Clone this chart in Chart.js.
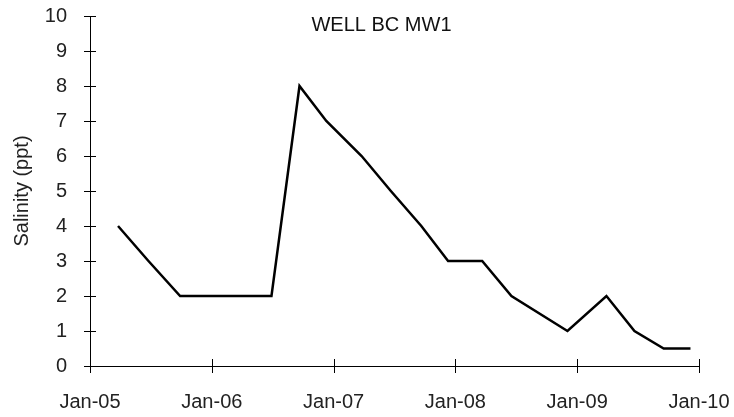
<!DOCTYPE html>
<html>
<head>
<meta charset="utf-8">
<script src="https://cdn.jsdelivr.net/npm/chart.js@4"></script>
<style>
  html, body { margin: 0; padding: 0; background: #fff; }
  #wrap { width: 734px; height: 417px; }
</style>
</head>
<body>
<div id="wrap"><canvas id="chart"></canvas></div>
<script>
// years since Jan-05
const sampleYears = [0.23, 0.48, 0.74, 1.0, 1.24, 1.49, 1.72, 1.94, 2.23, 2.47, 2.72, 2.94, 3.22, 3.46, 3.92, 4.24, 4.47, 4.71, 4.93];
const salinity = [4, 3, 2, 2, 2, 2, 8, 7, 6, 5, 4, 3, 3, 2, 1, 2, 1, 0.5, 0.5];
const xTickLabels = ["Jan-05", "Jan-06", "Jan-07", "Jan-08", "Jan-09", "Jan-10"];
const chartTitle = "WELL BC MW1";

const points = sampleYears.map((x, i) => ({ x: x, y: salinity[i] }));
const fontFamily = "Arial, 'Liberation Sans', sans-serif";
const font = { family: fontFamily, size: 20 };

// ticks that cross the axis line, plus the title inside the plot
const crossTicks = {
  id: "crossTicks",
  afterDraw(chart) {
    const ctx = chart.ctx;
    const xs = chart.scales.x, ys = chart.scales.y;
    ctx.save();
    ctx.strokeStyle = "#000";
    ctx.lineWidth = 1;
    ctx.beginPath();
    ys.ticks.forEach(t => {
      const py = Math.round(ys.getPixelForValue(t.value)) + 0.5;
      ctx.moveTo(xs.left - 6, py);
      ctx.lineTo(xs.left + 6, py);
    });
    xs.ticks.forEach(t => {
      const px = Math.round(xs.getPixelForValue(t.value)) + 0.5;
      ctx.moveTo(px, ys.bottom - 7);
      ctx.lineTo(px, ys.bottom + 7);
    });
    ctx.stroke();
    ctx.fillStyle = "#111";
    ctx.font = "20px " + fontFamily;
    ctx.textAlign = "center";
    ctx.textBaseline = "middle";
    ctx.fillText(chartTitle, (chart.chartArea.left + chart.chartArea.right) / 2 - 13, 25);
    ctx.restore();
  }
};

new Chart(document.getElementById("chart"), {
  type: "line",
  data: {
    datasets: [{
      data: points,
      borderColor: "#000",
      borderWidth: 2.5,
      pointRadius: 0,
      tension: 0,
      fill: false
    }]
  },
  options: {
    responsive: true,
    maintainAspectRatio: false,
    animation: false,
    layout: { padding: { top: 16, right: 35, left: 0, bottom: 0 } },
    plugins: { legend: { display: false }, tooltip: { enabled: false } },
    scales: {
      x: {
        type: "linear",
        min: 0,
        max: 5,
        afterFit(s) { s.height = 51; s.paddingLeft = 0; s.paddingRight = 0; },
        grid: { display: false, drawTicks: false },
        border: { display: true, color: "#000", width: 1 },
        ticks: {
          stepSize: 1,
          padding: 24,
          color: "#222",
          font: font,
          maxRotation: 0,
          callback: (v) => xTickLabels[v]
        }
      },
      y: {
        min: 0,
        max: 10,
        afterFit(s) { s.width = 90; s.paddingTop = 0; },
        grid: { display: false, drawTicks: false },
        border: { display: true, color: "#000", width: 1 },
        title: { display: true, text: "Salinity (ppt)", color: "#222", font: font, padding: { top: 10, bottom: 0 } },
        ticks: { stepSize: 1, padding: 23, color: "#222", font: font }
      }
    }
  },
  plugins: [crossTicks]
});
</script>
</body>
</html>
